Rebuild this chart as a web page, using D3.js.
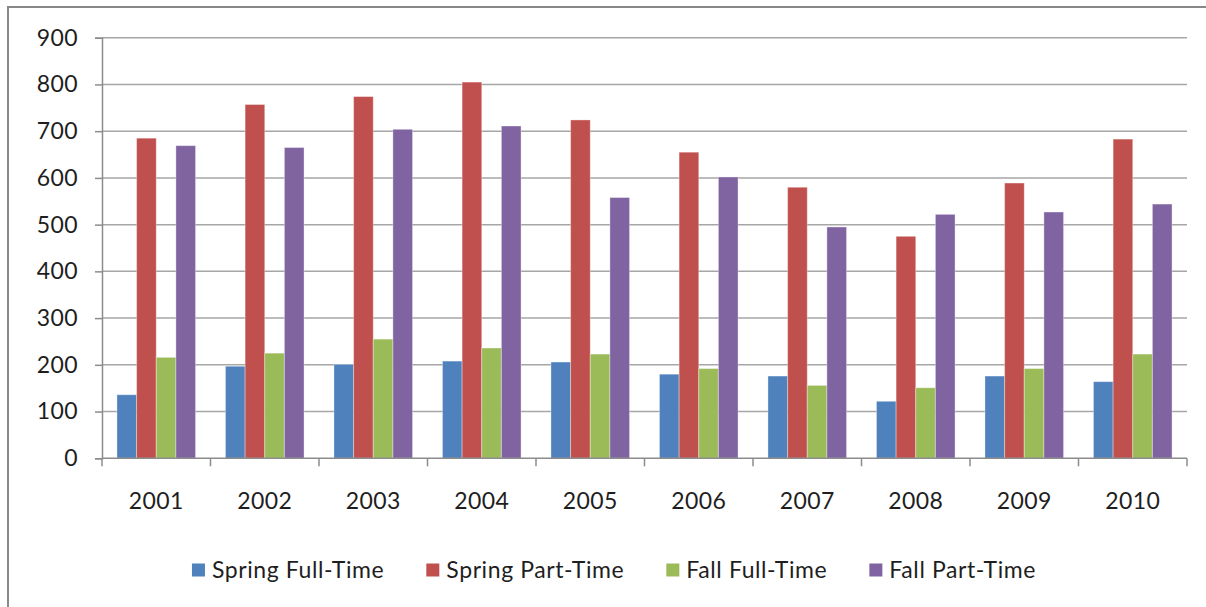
<!DOCTYPE html>
<html>
<head>
<meta charset="utf-8">
<script src="https://cdn.jsdelivr.net/npm/d3@7"></script>
<style>
  html, body { margin: 0; padding: 0; background: #fff; }
  svg { display: block; }
  text { font-family: Lato, "Open Sans", sans-serif; fill: #1e1e1e; }
</style>
</head>
<body>
<svg id="chart" width="1206" height="607"></svg>
<script>
const years = ["2001","2002","2003","2004","2005","2006","2007","2008","2009","2010"];
const seriesNames = ["Spring Full-Time","Spring Part-Time","Fall Full-Time","Fall Part-Time"];
const springFullTime = [136, 197, 201, 208, 206, 180, 176, 122, 176, 164];
const springPartTime = [685, 757, 774, 805, 724, 655, 580, 475, 589, 683];
const fallFullTime   = [216, 225, 255, 236, 223, 192, 156, 151, 192, 223];
const fallPartTime   = [669, 665, 704, 711, 558, 602, 495, 522, 527, 544];
const yTicks = [0,100,200,300,400,500,600,700,800,900];
const colors = ["#4F81BD","#C0504D","#9BBB59","#8064A2"];

const seriesValues = [springFullTime, springPartTime, fallFullTime, fallPartTime];
const table = years.map((yr,i) => ({year:yr, values: seriesNames.map((s,j)=>({series:s, value:seriesValues[j][i]}))}));

const svg = d3.select("#chart");
// outer border
svg.append("rect").attr("x",8).attr("y",7).attr("width",1210).attr("height",620)
  .attr("fill","none").attr("stroke","#888").attr("stroke-width",2);

const pLeft = 102, pRight = 1187, pTop = 37.7, pBottom = 458.3;
const y = d3.scaleLinear().domain([0,900]).range([pBottom, pTop]);
const x0 = d3.scaleBand().domain(years).range([pLeft,pRight]).paddingInner(0.2757).paddingOuter(0.1378);
const x1 = d3.scaleBand().domain(seriesNames).range([0, x0.bandwidth()]);
const color = d3.scaleOrdinal().domain(seriesNames).range(colors);

// gridlines
svg.append("g").selectAll("line").data(yTicks.filter(t=>t>0)).join("line")
  .attr("x1",pLeft).attr("x2",pRight).attr("y1",d=>y(d)).attr("y2",d=>y(d))
  .attr("stroke","#a6a6a6").attr("stroke-width",1.5);

// bars
svg.append("g").selectAll("g").data(table).join("g")
  .attr("transform",d=>`translate(${x0(d.year)},0)`)
  .selectAll("rect").data(d=>d.values).join("rect")
  .attr("x",d=>x1(d.series)).attr("width",x1.bandwidth())
  .attr("y",d=>y(d.value)).attr("height",d=>y(0)-y(d.value))
  .attr("fill",d=>color(d.series))
  .attr("stroke","rgba(255,255,255,0.35)").attr("stroke-width",1);

// y axis
const yAxis = d3.axisLeft(y).tickValues(yTicks).tickSize(7).tickPadding(17).tickFormat(d3.format("d"));
const gy = svg.append("g").attr("transform",`translate(${pLeft},0)`).call(yAxis);
gy.select(".domain").attr("stroke","#8c8c8c").attr("stroke-width",1.5);
gy.selectAll(".tick line").attr("stroke","#8c8c8c").attr("stroke-width",1.5);
gy.selectAll("text").attr("font-size",23).attr("font-family","Lato, sans-serif").attr("fill","#1e1e1e")
  .attr("letter-spacing","0.4px");

// x axis
const boundaries = years.map(yr => x0(yr) - x0.step()*x0.paddingInner()/2).concat([pRight]);
boundaries[0] = pLeft;
const gx = svg.append("g");
gx.append("line").attr("x1",pLeft).attr("x2",pRight).attr("y1",pBottom).attr("y2",pBottom)
  .attr("stroke","#8c8c8c").attr("stroke-width",1.5);
gx.selectAll("line.tk").data(boundaries).join("line").attr("class","tk")
  .attr("x1",d=>d).attr("x2",d=>d).attr("y1",pBottom).attr("y2",pBottom+8)
  .attr("stroke","#8c8c8c").attr("stroke-width",1.5);
gx.selectAll("text").data(years).join("text")
  .attr("x",d=>x0(d)+x0.bandwidth()/2).attr("y",501).attr("dy","0.35em")
  .attr("text-anchor","middle").attr("font-size",23).attr("letter-spacing","0.4px").text(d=>d);

// legend
const lg = svg.append("g");
const items = lg.selectAll("g").data(seriesNames).join("g");
items.append("rect").attr("width",13).attr("height",13).attr("y",-6.5).attr("fill",d=>color(d));
items.append("text").attr("x",20).attr("dy","0.35em").attr("font-size",23)
  .attr("letter-spacing","0.6px").text(d=>d);
let widths = [];
items.each(function(){ widths.push(20 + d3.select(this).select("text").node().getComputedTextLength()); });
const gap = 42;
const total = d3.sum(widths) + gap*(widths.length-1);
let cx = 614 - total/2;
items.attr("transform",(d,i)=>{ const t=`translate(${cx},570)`; cx += widths[i]+gap; return t; });
</script>
</body>
</html>
